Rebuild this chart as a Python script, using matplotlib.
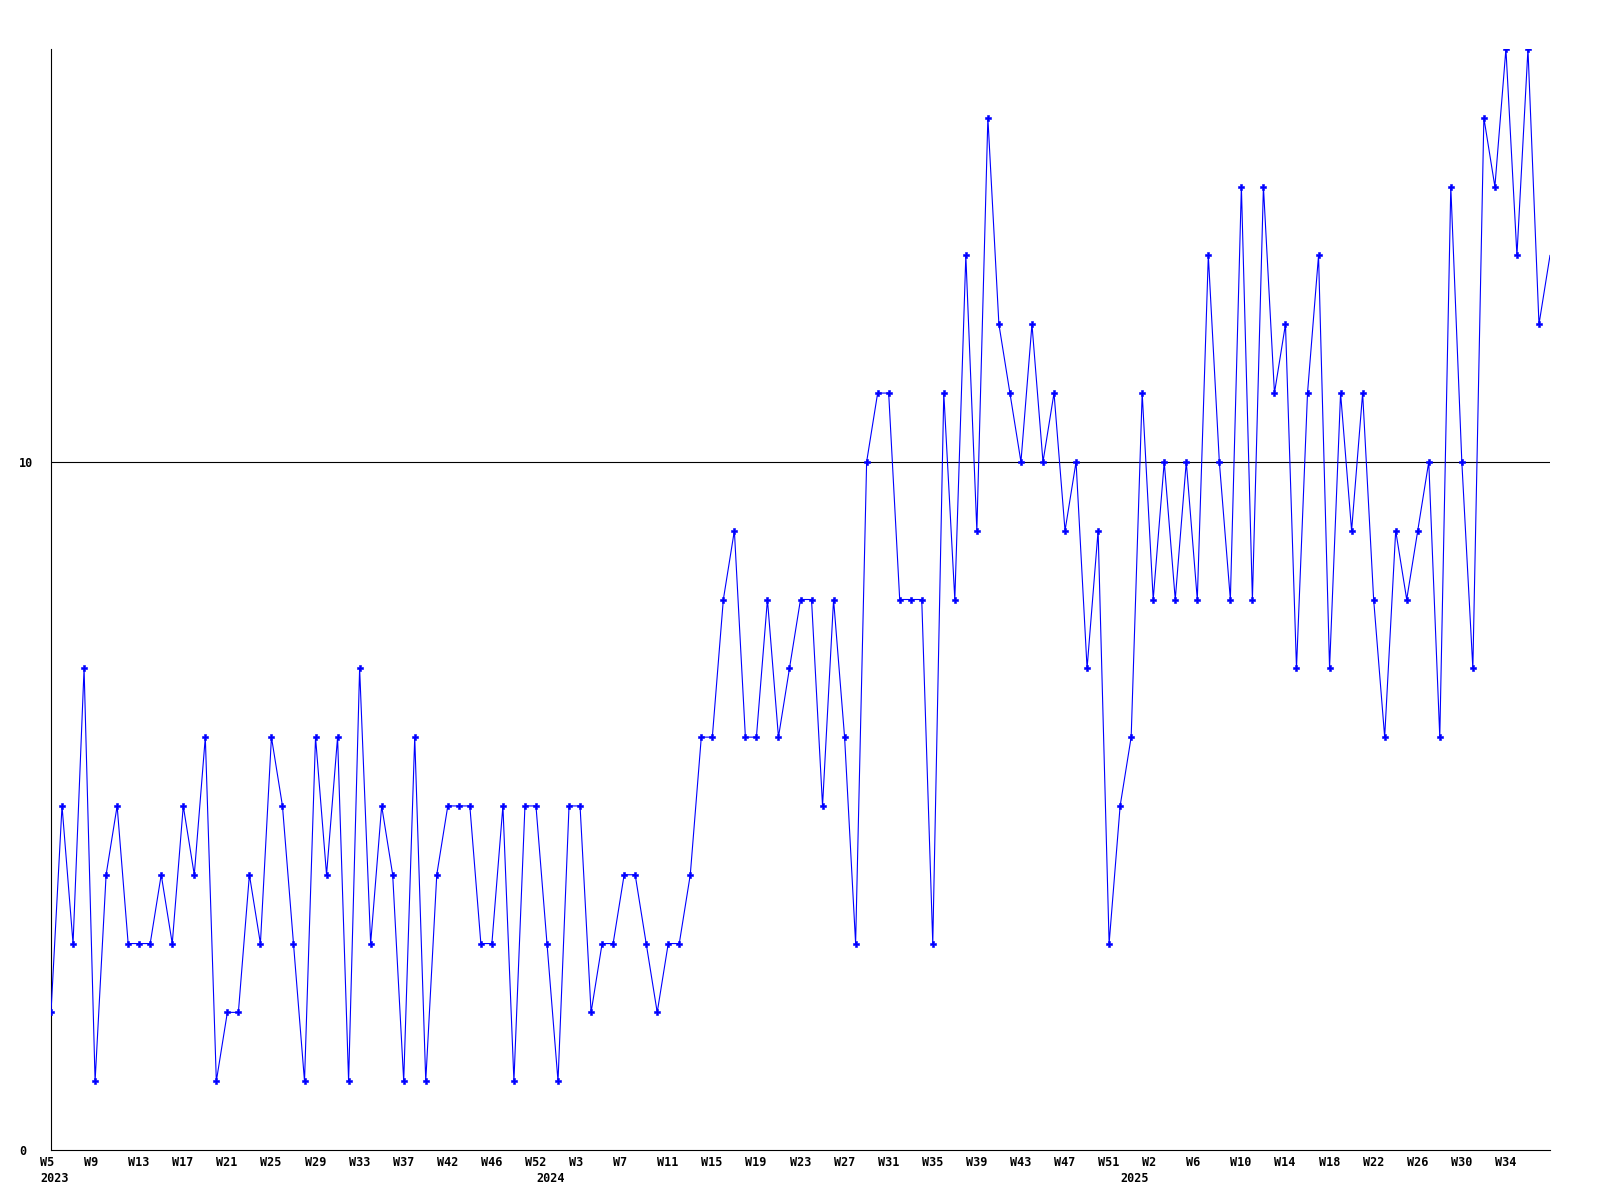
import numpy as np
import matplotlib
matplotlib.use('Agg')
import matplotlib.pyplot as plt
from matplotlib.transforms import blended_transform_factory, offset_copy

# ── DATA ─────────────────────────────────────────────────────────
values = [2, 5, 3, 7, 1, 4, 5, 3, 3, 3, 4, 3, 5, 4, 6, 1, 2, 2, 4, 3,
          6, 5, 3, 1, 6, 4, 6, 1, 7, 3, 5, 4, 1, 6, 1, 4, 5, 5, 5, 3,
          3, 5, 1, 5, 5, 3, 1, 5, 5, 2, 3, 3, 4, 4, 3, 2, 3, 3, 4, 6,
          6, 8, 9, 6, 6, 8, 6, 7, 8, 8, 5, 8, 6, 3, 10, 11, 11, 8, 8, 8,
          3, 11, 8, 13, 9, 15, 12, 11, 10, 12, 10, 11, 9, 10, 7, 9, 3, 5, 6, 11,
          8, 10, 8, 10, 8, 13, 10, 8, 14, 8, 14, 11, 12, 7, 11, 13, 7, 11, 9, 11,
          8, 6, 9, 8, 9, 10, 6, 14, 10, 7, 15, 14, 16, 13, 16, 12, 13]

week_labels = ['W5', 'W9', 'W13', 'W17', 'W21', 'W25', 'W29', 'W33', 'W37',
               'W42', 'W46', 'W52', 'W3', 'W7', 'W11', 'W15', 'W19', 'W23',
               'W27', 'W31', 'W35', 'W39', 'W43', 'W47', 'W51', 'W2', 'W6',
               'W10', 'W14', 'W18', 'W22', 'W26', 'W30', 'W34']
label_step = 4

year_labels = ['2023', '2024', '2025']
year_pos = [0, 45, 98]

y_ticks = [0, 10]

# ── CHART ────────────────────────────────────────────────────────
font = dict(family='DejaVu Sans Mono', fontweight='bold', fontsize=8.5)

fig = plt.figure(figsize=(16, 12), dpi=100)
ax = fig.add_axes([51 / 1600, 50 / 1200, 1499 / 1600, 1101 / 1200])

x = np.arange(len(values))
ax.plot(x, values, color='#0000ff', linewidth=0.8,
        marker='P', markersize=4.2, markeredgewidth=0.4,
        markeredgecolor='#0000ff',
        markevery=list(range(len(values) - 1)), zorder=3)

ax.axhline(10, color='black', linewidth=0.8, zorder=2)

ax.set_xlim(0, len(values) - 1)
ax.set_ylim(0, 16)

for s in ['top', 'right']:
    ax.spines[s].set_visible(False)
for s in ['left', 'bottom']:
    ax.spines[s].set_linewidth(0.8)
    ax.spines[s].set_color('black')

ax.set_yticks(y_ticks)
ax.set_yticklabels([str(v) for v in y_ticks], **font)
ax.tick_params(axis='y', length=0, pad=23)
for lbl in ax.get_yticklabels():
    lbl.set_horizontalalignment('left')

# week labels: left edge sits ~11 px left of the data point
ax.set_xticks([])
trans = blended_transform_factory(ax.transData, ax.transAxes)
trans = offset_copy(trans, fig=fig, x=-11, y=0, units='dots')
for i, wk in enumerate(week_labels):
    ax.text(i * label_step, -0.005, wk, transform=trans,
            ha='left', va='top', **font)
for pos, yr in zip(year_pos, year_labels):
    ax.text(pos, -0.020, yr, transform=trans, ha='left', va='top', **font)

fig.savefig('out.png', dpi=100, facecolor='white')
